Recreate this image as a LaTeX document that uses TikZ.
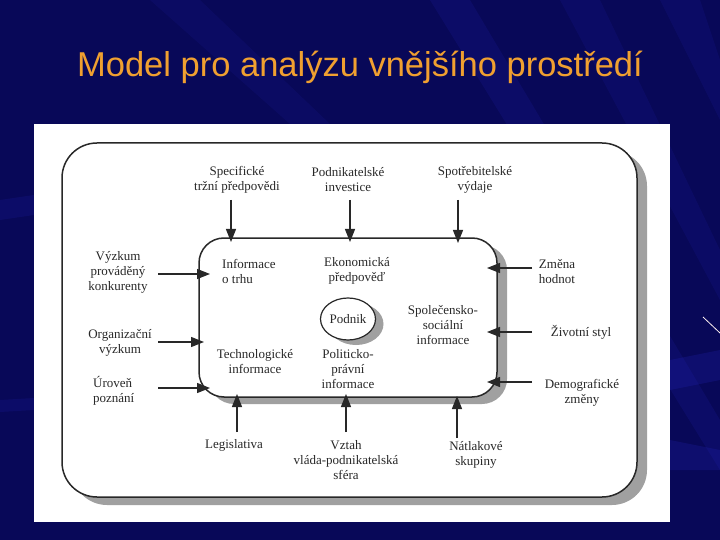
\documentclass[tikz,border=0pt]{standalone}
\usepackage{fontspec}
\setmainfont{Liberation Serif}
\newfontfamily\titlefont{Liberation Sans}
\usetikzlibrary{arrows.meta,shapes.geometric}
\definecolor{bg}{RGB}{8,8,88}
\definecolor{streak}{RGB}{40,40,200}
\definecolor{ttl}{RGB}{240,160,48}
\definecolor{ink}{RGB}{40,40,40}
\definecolor{shd}{RGB}{160,160,160}
\begin{document}
\begin{tikzpicture}[x=1pt,y=-1pt,
  lbl/.style={font=\fontsize{13}{15}\selectfont, text=ink, align=center, inner sep=0pt},
  arr/.style={draw=ink, line width=1.2pt, -{Triangle[length=13pt,width=10pt]}},
  boxline/.style={draw=ink, line width=1.5pt, fill=white}]
\useasboundingbox (0,0) rectangle (720,540);
\fill[bg] (0,0) rectangle (720,540);
% background streaks
\fill[streak, opacity=0.14] (430,0) -- (470,0) -- (720,420) -- (720,470) -- cycle;
\fill[streak, opacity=0.12] (560,0) -- (600,0) -- (720,250) -- (720,300) -- cycle;
\fill[streak, opacity=0.12] (660,0) -- (700,0) -- (720,60) -- (720,120) -- cycle;
\fill[streak, opacity=0.2] (670,360) -- (720,350) -- (720,380) -- (670,390) -- cycle;
\fill[streak, opacity=0.2] (670,440) -- (720,450) -- (720,470) -- (670,470) -- cycle;
\fill[streak, opacity=0.15] (0,200) -- (34,195) -- (34,215) -- (0,220) -- cycle;
\fill[streak, opacity=0.15] (0,400) -- (34,398) -- (34,410) -- (0,412) -- cycle;
\fill[streak, opacity=0.1] (150,0) -- (200,0) -- (330,124) -- (290,124) -- cycle;
\draw[white!80!pink, line width=0.8pt] (703,317) -- (720,333);
% title
\node[font=\titlefont\fontsize{34.5}{40}\selectfont, text=ttl, anchor=base] (title) at (360,77) {Model pro analýzu vnějšího prostředí};
% white panel
\fill[white] (34,124) rectangle (670,522);
% outer box
\fill[shd, rounded corners=35pt] (72,151) rectangle (647,505);
\draw[boxline, rounded corners=35pt] (62,143) rectangle (637,497);
% inner box
\fill[shd, rounded corners=25pt] (209,245) rectangle (507,404);
\draw[boxline, rounded corners=25pt] (199,238) rectangle (497,397);
% Podnik
\fill[shd] (356,324) ellipse (27.5 and 21);
\node[ellipse, draw=ink, line width=1.2pt, fill=white, minimum width=55pt, minimum height=42pt, inner sep=0pt, font=\fontsize{13}{15}\selectfont, text=ink] (podnik) at (348,319) {Podnik};
% top texts
\node[lbl] (spec) at (237,180) {Specifické\\tržní předpovědi};
\node[lbl] (invest) at (348,180) {Podnikatelské\\investice};
\node[lbl] (spotr) at (475,180) {Spotřebitelské\\výdaje};
% left texts
\node[lbl] (vyzkum) at (118,272) {Výzkum\\prováděný\\konkurenty};
\node[lbl] (org) at (120,343) {Organizační\\výzkum};
\node[lbl, anchor=west, align=left] (uroven) at (93,391) {Úroveň\\poznání};
% inner texts
\node[lbl, anchor=west, align=left] (info) at (222,271) {Informace\\o trhu};
\node[lbl] (ekon) at (357,271) {Ekonomická\\předpověď};
\node[lbl] (spol) at (443,325) {Společensko-\\sociální\\informace};
\node[lbl] (tech) at (255,362) {Technologické\\informace};
\node[lbl] (polit) at (348,369) {Politicko-\\právní\\informace};
% right texts
\node[lbl] (zmena) at (557,272) {Změna\\hodnot};
\node[lbl] (zivot) at (581,332) {Životní styl};
\node[lbl] (demo) at (582,393) {Demografické\\změny};
% bottom texts
\node[lbl] (legis) at (234,445) {Legislativa};
\node[lbl] (vztah) at (346,460) {Vztah\\vláda-podnikatelská\\sféra};
\node[lbl] (natlak) at (476,455) {Nátlakové\\skupiny};
% arrow endpoints
\coordinate (t1s) at (231,200); \coordinate (t1e) at (231,242);
\coordinate (t2s) at (350,200); \coordinate (t2e) at (350,242);
\coordinate (t3s) at (458,200); \coordinate (t3e) at (458,243);
\coordinate (l1s) at (158,274); \coordinate (l1e) at (210,274);
\coordinate (l2s) at (158,342); \coordinate (l2e) at (204,342);
\coordinate (l3s) at (158,388); \coordinate (l3e) at (210,388);
\coordinate (r1s) at (532,268); \coordinate (r1e) at (487,268);
\coordinate (r2s) at (532,332); \coordinate (r2e) at (487,332);
\coordinate (r3s) at (532,382); \coordinate (r3e) at (487,382);
\coordinate (b1s) at (237,432); \coordinate (b1e) at (237,394);
\coordinate (b2s) at (346,432); \coordinate (b2e) at (346,394);
\coordinate (b3s) at (457,438); \coordinate (b3e) at (457,396);
\foreach \a in {t1,t2,t3,l1,l2,l3,r1,r2,r3,b1,b2,b3}
  \draw[arr] (\a s) -- (\a e);
\end{tikzpicture}
\end{document}
